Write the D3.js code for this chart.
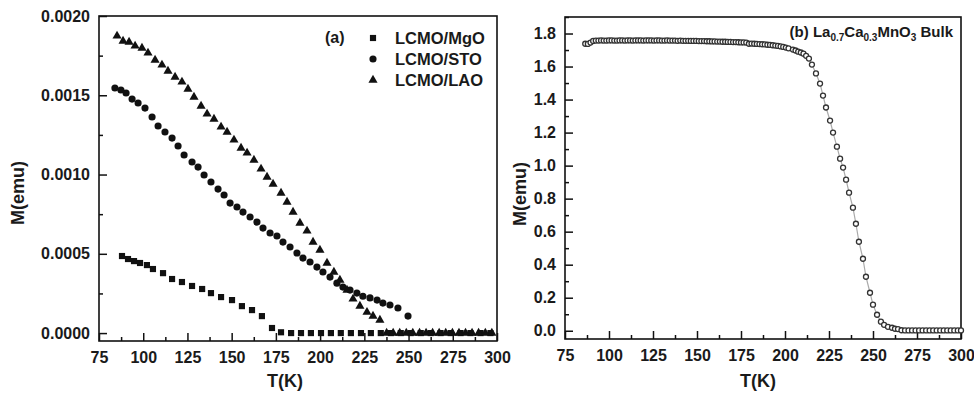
<!DOCTYPE html>
<html>
<head>
<meta charset="utf-8">
<script src="https://cdn.jsdelivr.net/npm/d3@7"></script>
<style>
  body { margin: 0; background: #fff; }
  svg text { font-family: "Liberation Sans", Arial, sans-serif; font-weight: bold; fill: #1a1a1a; }
</style>
</head>
<body>
<svg id="chart" width="974" height="394"></svg>
<script>
// ---- panel (a): thin films ----
const tempTicks = [75, 100, 125, 150, 175, 200, 225, 250, 275, 300];
const filmTicks = [0, 0.0005, 0.0010, 0.0015, 0.0020];

const mgoT = [88.0, 91.4, 94.8, 98.2, 102.1, 105.5, 111.2, 116.3, 121.9, 127.6, 133.3, 138.3, 144.0, 150.2,
  155.8, 161.5, 167.1, 172.8, 177.9, 183.6, 189.2, 194.8, 200.5, 206.1, 211.7, 217.4, 223.1, 228.7,
  234.3, 240.0, 245.6, 251.2, 256.9, 262.5, 268.1, 273.8, 279.4, 285.0, 290.7, 296.3];
const mgoM = [0.000486, 0.000467, 0.000454, 0.000442, 0.000429, 0.000404, 0.000378, 0.000341, 0.000322,
  0.000297, 0.000278, 0.000252, 0.000227, 0.000208, 0.000170, 0.000145, 0.000107, 0.000032, 0.000005,
  0, 0, 0, 0, 0, 0, 0, 0, 0, 0, 0, 0, 0, 0, 0, 0, 0, 0, 0, 0, 0];

const stoT = [84.0, 87.4, 90.3, 93.7, 97.1, 101.0, 105.0, 108.4, 112.3, 116.3, 119.7, 123.1, 127.6, 131.0,
  134.4, 138.3, 142.3, 145.7, 149.1, 153.0, 156.4, 160.4, 164.3, 167.7, 171.7, 175.6, 179.0, 183.0,
  186.9, 190.3, 194.3, 198.2, 201.6, 205.6, 209.5, 212.9, 216.9, 220.8, 224.2, 228.2, 232.2, 235.5,
  239.5, 244.0, 249.7];
const stoM = [0.001546, 0.001533, 0.001514, 0.001476, 0.001451, 0.001419, 0.001363, 0.001306, 0.001268,
  0.001230, 0.001180, 0.001123, 0.001079, 0.001047, 0.000997, 0.000953, 0.000908, 0.000871, 0.000820,
  0.000795, 0.000763, 0.000732, 0.000700, 0.000662, 0.000631, 0.000612, 0.000574, 0.000543, 0.000505,
  0.000473, 0.000448, 0.000416, 0.000385, 0.000353, 0.000315, 0.000290, 0.000271, 0.000252, 0.000232,
  0.000222, 0.000208, 0.000189, 0.000177, 0.000158, 0.000107];

const laoT = [85.2, 88.6, 92.0, 95.4, 99.3, 102.7, 106.7, 110.6, 114.0, 118.0, 121.9, 125.3, 128.7, 132.7,
  136.1, 140.0, 144.0, 147.4, 151.3, 155.3, 158.7, 162.6, 166.6, 170.0, 173.4, 177.9, 181.3, 184.7,
  188.6, 192.6, 196.0, 199.9, 203.9, 207.8, 211.2, 215.2, 218.6, 222.5, 226.5, 229.9, 233.8,
  237.6, 241.3, 245.0, 248.7, 252.4, 256.2, 259.9, 263.6, 267.3, 271.0, 274.8, 278.5, 282.2, 285.9,
  289.6, 293.4, 297.1];
const laoM = [0.001874, 0.001842, 0.001836, 0.001811, 0.001798, 0.001767, 0.001722, 0.001691, 0.001653,
  0.001615, 0.001584, 0.001539, 0.001489, 0.001432, 0.001382, 0.001350, 0.001300, 0.001268, 0.001218,
  0.001167, 0.001136, 0.001091, 0.001035, 0.000984, 0.000940, 0.000883, 0.000826, 0.000763, 0.000694,
  0.000644, 0.000574, 0.000524, 0.000442, 0.000385, 0.000334, 0.000271, 0.000215, 0.000170, 0.000132,
  0.000107, 0.000082,
  0, 0, 0, 0, 0, 0, 0, 0, 0, 0, 0, 0, 0, 0, 0, 0, 0];

const filmNames = ['LCMO/MgO', 'LCMO/STO', 'LCMO/LAO'];

// ---- panel (b): bulk ----
const bulkTicks = [0, 0.2, 0.4, 0.6, 0.8, 1.0, 1.2, 1.4, 1.6, 1.8];

const bulkT = [86.5, 88.0, 89.5, 91.0, 92.5, 94.0, 95.5, 97.0, 98.5, 100.0, 101.5, 103.0, 104.5, 106.0,
  107.5, 109.0, 110.5, 112.0, 113.5, 115.0, 116.5, 118.0, 119.5, 121.0, 122.5, 124.0, 125.5, 127.0,
  128.5, 130.0, 131.5, 133.0, 134.5, 136.0, 137.5, 139.0, 140.5, 142.0, 143.5, 145.0, 146.5, 148.0,
  149.5, 151.0, 152.5, 154.0, 155.5, 157.0, 158.5, 160.0, 161.5, 163.0, 164.5, 166.0, 167.5, 169.0,
  170.5, 172.0, 173.5, 175.0, 176.5, 178.0, 179.5, 181.0, 182.5, 184.0, 185.5, 187.0, 188.5, 190.0,
  191.5, 193.0, 194.5, 196.0, 197.5, 199.0, 200.5, 202.0,
  204.5, 206.0, 207.5, 209.0, 210.5, 212.0, 213.6, 215.3, 217.6, 219.9, 221.6, 223.3, 225.6, 227.3,
  229.5, 231.3, 233.0, 234.7, 236.4, 238.6, 240.3, 242.0, 244.3, 246.0, 248.3, 250.0, 252.3, 254.5,
  256.3, 258.5, 260.8, 262.5, 264.2,
  266.2, 268.2, 270.2, 272.2, 274.2, 276.2, 278.2, 280.2, 282.2, 284.2, 286.2, 288.2, 290.2, 292.2,
  294.2, 296.2, 298.2, 300.0];
const bulkM = [1.738, 1.737, 1.745, 1.755, 1.757, 1.757, 1.758, 1.757, 1.757, 1.758, 1.758, 1.757, 1.757,
  1.758, 1.758, 1.757, 1.758, 1.758, 1.757, 1.758, 1.758, 1.758, 1.757, 1.758, 1.758, 1.758, 1.757,
  1.758, 1.758, 1.757, 1.757, 1.758, 1.757, 1.757, 1.757, 1.756, 1.757, 1.756, 1.756, 1.756, 1.755,
  1.755, 1.755, 1.754, 1.754, 1.754, 1.753, 1.753, 1.752, 1.752, 1.751, 1.751, 1.750, 1.750, 1.749,
  1.749, 1.748, 1.748, 1.747, 1.746, 1.746, 1.745, 1.738, 1.739, 1.738, 1.737, 1.736, 1.735, 1.734,
  1.732, 1.731, 1.729, 1.727, 1.725, 1.722, 1.719, 1.715, 1.710,
  1.703, 1.697, 1.690, 1.685, 1.678, 1.665, 1.648, 1.612, 1.558, 1.497, 1.424, 1.352, 1.273, 1.200,
  1.115, 1.042, 0.988, 0.915, 0.836, 0.745, 0.648, 0.539, 0.436, 0.327, 0.230, 0.158, 0.097, 0.055,
  0.036, 0.024, 0.018, 0.012, 0.010,
  0.003, 0.002, 0.002, 0.002, 0.002, 0.002, 0.002, 0.002, 0.002, 0.002, 0.002, 0.002, 0.002, 0.002,
  0.002, 0.002, 0.002, 0.002];

const ink = '#111';
const svg = d3.select('#chart');

// inward major + minor ticks, frame box, tick labels
function drawFrame(x, y, majorY, minorY, fmt) {
  const [x0, x1] = x.range();
  const [y0, y1] = y.range();
  const g = svg.append('g');

  const minorX = tempTicks.slice(0, -1).map(t => t + 12.5);

  g.append('g')
    .attr('transform', `translate(0,${y0})`)
    .call(d3.axisBottom(x).tickValues(tempTicks).tickSize(-8).tickPadding(11).tickFormat(d3.format('d')))
    .call(a => a.select('.domain').remove())
    .call(a => a.selectAll('line').attr('stroke', ink).attr('stroke-width', 1.5))
    .call(a => a.selectAll('text').attr('font-size', 16).attr('fill', '#1a1a1a'));
  g.append('g')
    .attr('transform', `translate(0,${y0})`)
    .call(d3.axisBottom(x).tickValues(minorX).tickSize(-4).tickFormat(''))
    .call(a => a.select('.domain').remove())
    .call(a => a.selectAll('line').attr('stroke', ink).attr('stroke-width', 1.5));

  g.append('g')
    .attr('transform', `translate(${x0},0)`)
    .call(d3.axisLeft(y).tickValues(majorY).tickSize(-8).tickPadding(9).tickFormat(d3.format(fmt)))
    .call(a => a.select('.domain').remove())
    .call(a => a.selectAll('line').attr('stroke', ink).attr('stroke-width', 1.5))
    .call(a => a.selectAll('text').attr('font-size', 16).attr('fill', '#1a1a1a'));
  g.append('g')
    .attr('transform', `translate(${x0},0)`)
    .call(d3.axisLeft(y).tickValues(minorY).tickSize(-4).tickFormat(''))
    .call(a => a.select('.domain').remove())
    .call(a => a.selectAll('line').attr('stroke', ink).attr('stroke-width', 1.5));

  g.append('rect')
    .attr('x', x0).attr('y', y1)
    .attr('width', x1 - x0).attr('height', y0 - y1)
    .attr('fill', 'none').attr('stroke', ink).attr('stroke-width', 1.6);
}

// ---------- panel (a) ----------
const xA = d3.scaleLinear().domain([75, 300]).range([99, 497]);
const yA = d3.scaleLinear().domain([-0.00005, 0.0020]).range([341, 16]);

drawFrame(xA, yA, filmTicks, filmTicks.slice(0, -1).map(v => v + 0.00025), '.4f');

const shapes = [
  d3.symbol(d3.symbolSquare, 38),
  d3.symbol(d3.symbolCircle, 40),
  d3.symbol(d3.symbolTriangle, 36),
];
const films = [
  { T: mgoT, M: mgoM },
  { T: stoT, M: stoM },
  { T: laoT, M: laoM },
];

films.forEach((s, i) => {
  svg.append('g').selectAll('path')
    .data(s.T.map((t, k) => [t, s.M[k]]))
    .join('path')
    .attr('d', shapes[i])
    .attr('transform', d => `translate(${xA(d[0])},${yA(d[1])})`)
    .attr('fill', ink);
});

// legend (a)
svg.append('text').attr('x', 325).attr('y', 43).attr('font-size', 16).text('(a)');
filmNames.forEach((name, i) => {
  const cy = 38 + i * 21;
  svg.append('path').attr('d', shapes[i]).attr('transform', `translate(373,${cy})`).attr('fill', ink);
  svg.append('text').attr('x', 395).attr('y', cy + 6).attr('font-size', 16.5).text(name);
});

svg.append('text').attr('x', 285).attr('y', 387).attr('text-anchor', 'middle')
  .attr('font-size', 18).text('T(K)');
svg.append('text').attr('transform', 'translate(24,193) rotate(-90)').attr('text-anchor', 'middle')
  .attr('font-size', 18).text('M(emu)');

// ---------- panel (b) ----------
const xB = d3.scaleLinear().domain([75, 300]).range([565, 961]);
const yB = d3.scaleLinear().domain([-0.05, 1.9]).range([339, 17]);

drawFrame(xB, yB, bulkTicks, bulkTicks.map(v => v + 0.1), '.1f');

const bulk = bulkT.map((t, k) => [t, bulkM[k]]);
svg.append('path')
  .datum(bulk)
  .attr('d', d3.line().x(d => xB(d[0])).y(d => yB(d[1])))
  .attr('fill', 'none').attr('stroke', '#aaa').attr('stroke-width', 1.2);
svg.append('g').selectAll('circle')
  .data(bulk)
  .join('circle')
  .attr('cx', d => xB(d[0]))
  .attr('cy', d => yB(d[1]))
  .attr('r', 2.5)
  .attr('fill', '#fff')
  .attr('stroke', '#333')
  .attr('stroke-width', 1.3);

const lab = svg.append('text').attr('x', 953).attr('y', 37).attr('text-anchor', 'end').attr('font-size', 15);
[['(b) La', 0], ['0.7', 1], ['Ca', 0], ['0.3', 1], ['MnO', 0], ['3', 1], [' Bulk', 0]].forEach(([t, sub], i, arr) => {
  const prevSub = i > 0 && arr[i - 1][1];
  lab.append('tspan')
    .attr('font-size', sub ? 10 : 15)
    .attr('dy', sub ? 4 : (prevSub ? -4 : 0))
    .text(t);
});

svg.append('text').attr('x', 758).attr('y', 387).attr('text-anchor', 'middle')
  .attr('font-size', 18).text('T(K)');
svg.append('text').attr('transform', 'translate(526,194) rotate(-90)').attr('text-anchor', 'middle')
  .attr('font-size', 18).text('M(emu)');
</script>
</body>
</html>
